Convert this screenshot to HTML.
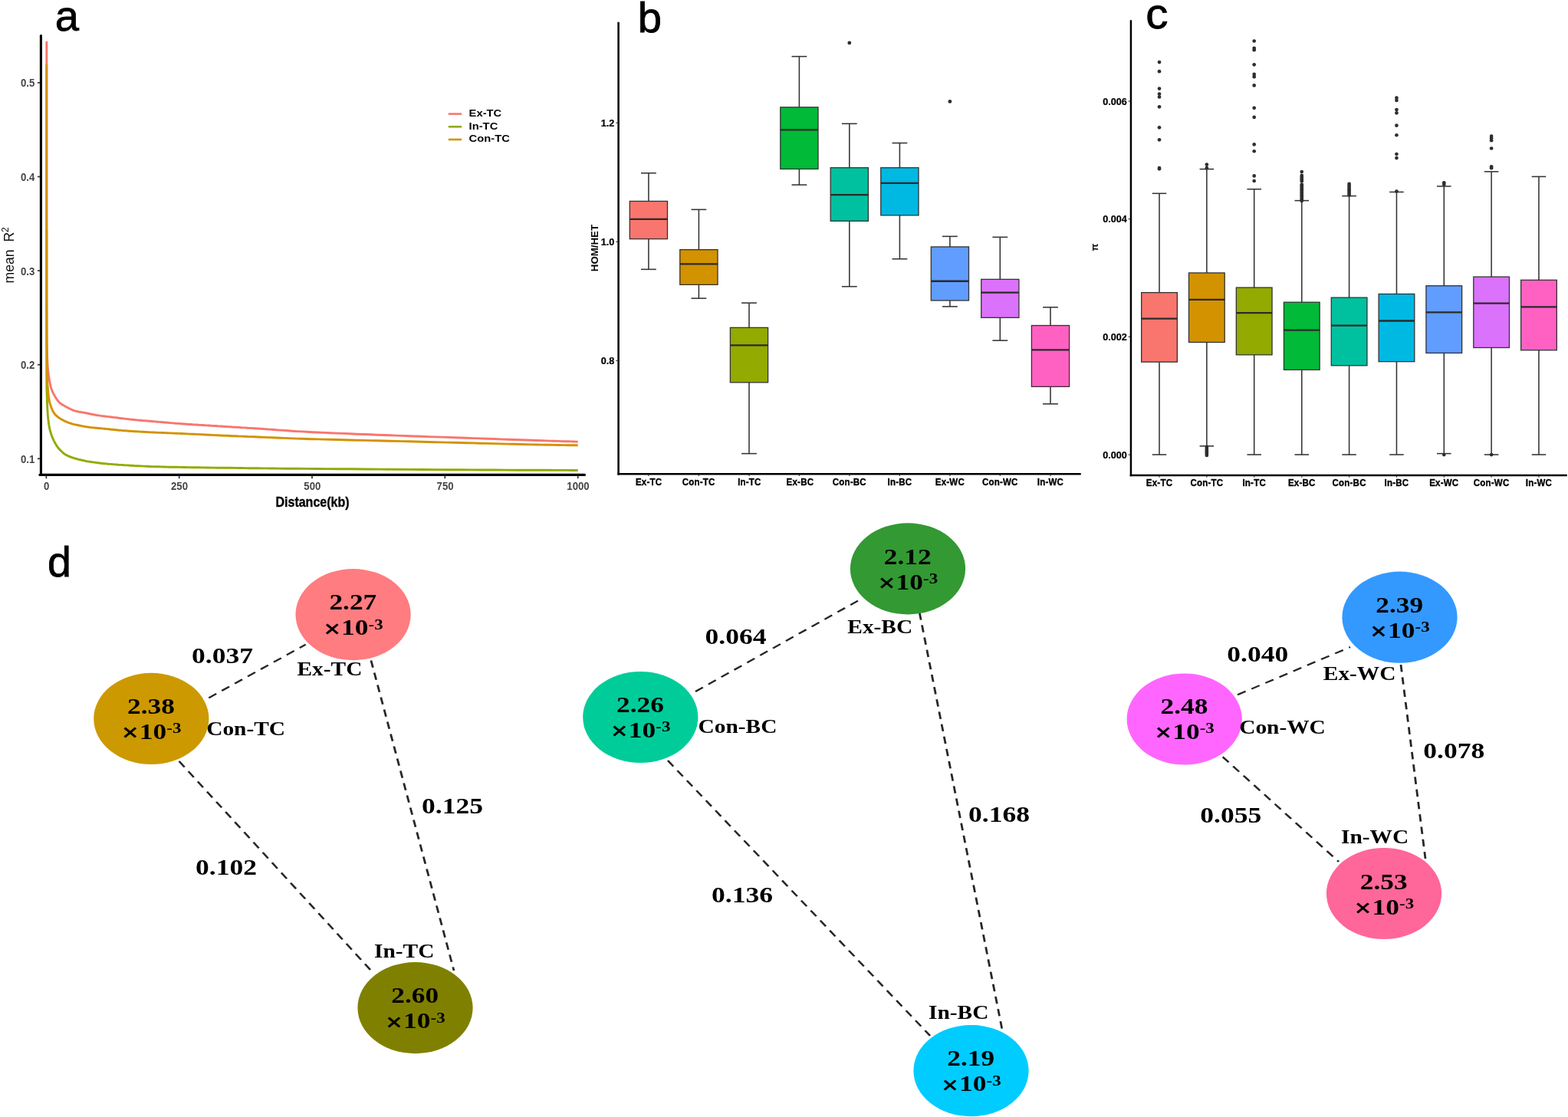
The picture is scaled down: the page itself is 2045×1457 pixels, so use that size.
<!DOCTYPE html>
<html lang="en"><head><meta charset="utf-8"><title>Figure</title>
<style>
html,body{margin:0;padding:0;background:#fff;}
body{width:2045px;height:1457px;overflow:hidden;}
svg{display:block;}
text{white-space:pre;}
</style></head><body>
<svg xmlns="http://www.w3.org/2000/svg" width="2045" height="1457" viewBox="0 0 2045 1457">
<rect width="2045" height="1457" fill="#fff"/>
<g id="panel-a">
<text transform="translate(71.80 39.90)" font-family='"Liberation Sans", Arial, Helvetica, sans-serif' font-size="56.2" font-weight="normal" text-anchor="start" fill="#000" stroke="#000" stroke-width="0.8">a</text>
<path d="M60.8 54.0 L60.8 66.3 L60.8 82.2 L60.8 101.2 L60.8 122.4 L60.8 145.4 L60.8 169.5 L60.8 194.0 L60.8 218.2 L60.8 241.6 L60.8 263.4 L60.8 283.1 L60.8 300.0 L60.8 314.7 L60.8 328.3 L60.8 340.9 L60.8 352.5 L60.8 363.2 L60.8 373.2 L60.8 382.4 L60.8 391.0 L60.9 398.9 L60.9 406.4 L60.9 413.4 L60.9 420.0 L60.9 425.9 L60.9 430.9 L61.0 435.0 L61.0 438.4 L61.0 441.2 L61.0 443.6 L61.1 445.6 L61.1 447.4 L61.2 449.1 L61.2 450.8 L61.2 452.8 L61.3 455.0 L61.4 457.4 L61.4 459.7 L61.5 461.9 L61.5 464.0 L61.6 466.0 L61.7 467.9 L61.8 469.8 L61.9 471.6 L61.9 473.3 L62.0 474.9 L62.1 476.5 L62.2 478.0 L62.3 479.4 L62.4 480.7 L62.5 481.9 L62.6 482.9 L62.7 483.9 L62.8 484.9 L62.9 485.8 L63.0 486.7 L63.2 487.5 L63.3 488.3 L63.4 489.2 L63.5 490.0 L63.6 490.8 L63.7 491.6 L63.8 492.4 L63.9 493.1 L64.1 493.8 L64.2 494.5 L64.3 495.2 L64.4 495.8 L64.5 496.5 L64.7 497.2 L64.8 497.9 L65.0 498.7 L65.2 499.5 L65.3 500.3 L65.5 501.1 L65.7 501.9 L65.8 502.7 L66.0 503.5 L66.2 504.4 L66.5 505.2 L66.7 506.0 L66.9 506.9 L67.2 507.7 L67.5 508.5 L67.8 509.3 L68.2 510.1 L68.5 511.0 L68.9 511.8 L69.3 512.7 L69.7 513.5 L70.2 514.3 L70.6 515.1 L71.1 515.9 L71.5 516.7 L72.0 517.5 L72.4 518.2 L72.8 518.9 L73.3 519.6 L73.7 520.2 L74.1 520.9 L74.6 521.5 L75.0 522.1 L75.5 522.7 L75.9 523.3 L76.4 523.9 L77.0 524.5 L77.6 525.0 L78.2 525.6 L78.9 526.2 L79.6 526.7 L80.4 527.2 L81.2 527.8 L82.0 528.3 L82.8 528.8 L83.7 529.3 L84.6 529.8 L85.5 530.3 L86.3 530.7 L87.2 531.2 L88.0 531.6 L88.8 532.0 L89.6 532.4 L90.3 532.8 L91.1 533.2 L91.8 533.6 L92.6 533.9 L93.4 534.3 L94.2 534.6 L95.0 535.0 L95.9 535.3 L96.8 535.6 L97.8 535.9 L98.9 536.2 L100.0 536.5 L101.1 536.7 L102.3 537.0 L103.6 537.2 L104.8 537.4 L106.1 537.7 L107.4 537.9 L108.7 538.1 L110.0 538.3 L111.3 538.6 L112.5 538.8 L113.7 539.0 L114.9 539.3 L116.0 539.5 L117.2 539.8 L118.3 540.0 L119.5 540.3 L120.7 540.5 L121.9 540.8 L123.1 541.0 L124.4 541.2 L125.7 541.5 L127.1 541.7 L128.6 541.9 L130.1 542.1 L131.6 542.4 L133.3 542.6 L134.9 542.8 L136.6 543.0 L138.3 543.2 L140.0 543.4 L141.7 543.6 L143.4 543.8 L145.1 544.0 L146.7 544.2 L148.3 544.4 L150.0 544.6 L151.7 544.8 L153.4 545.0 L155.1 545.3 L156.8 545.5 L158.5 545.7 L160.1 545.9 L161.8 546.1 L163.3 546.3 L164.8 546.4 L166.3 546.6 L167.7 546.8 L169.0 546.9 L170.2 547.0 L171.4 547.2 L172.5 547.3 L173.6 547.4 L174.8 547.5 L175.9 547.6 L177.1 547.7 L178.3 547.9 L179.5 548.0 L180.9 548.1 L182.3 548.2 L183.6 548.3 L184.9 548.5 L186.2 548.6 L187.5 548.7 L188.9 548.8 L190.3 548.9 L191.9 549.0 L193.7 549.2 L195.6 549.3 L197.7 549.5 L200.0 549.7 L202.6 549.9 L205.4 550.2 L208.3 550.4 L211.5 550.7 L214.8 551.0 L218.2 551.3 L221.7 551.6 L225.3 551.9 L228.9 552.2 L232.6 552.4 L236.3 552.7 L240.0 553.0 L243.7 553.3 L247.5 553.5 L251.4 553.8 L255.4 554.0 L259.4 554.3 L263.5 554.5 L267.6 554.8 L271.7 555.0 L275.8 555.3 L279.9 555.5 L284.0 555.8 L288.0 556.0 L291.9 556.2 L295.8 556.5 L299.6 556.7 L303.4 557.0 L307.2 557.2 L311.0 557.4 L314.9 557.7 L318.8 557.9 L322.9 558.2 L327.1 558.4 L331.4 558.7 L336.0 559.0 L340.7 559.3 L345.3 559.6 L350.0 560.0 L354.8 560.3 L359.7 560.7 L364.8 561.1 L370.0 561.4 L375.4 561.8 L381.1 562.2 L387.1 562.6 L393.4 562.9 L400.0 563.3 L407.1 563.7 L414.6 564.0 L422.5 564.4 L430.7 564.7 L439.1 565.1 L447.8 565.4 L456.5 565.8 L465.3 566.2 L474.2 566.5 L482.9 566.8 L491.6 567.2 L500.0 567.5 L508.3 567.8 L516.7 568.1 L525.0 568.4 L533.3 568.7 L541.7 569.0 L550.0 569.3 L558.3 569.6 L566.7 569.9 L575.0 570.1 L583.3 570.4 L591.7 570.7 L600.0 571.0 L608.5 571.3 L617.2 571.6 L626.1 571.9 L635.0 572.2 L644.0 572.5 L652.9 572.9 L661.6 573.2 L670.1 573.5 L678.3 573.8 L686.0 574.0 L693.3 574.3 L700.0 574.5 L706.3 574.7 L712.3 574.9 L717.9 575.1 L723.3 575.3 L728.4 575.4 L733.1 575.6 L737.5 575.7 L741.5 575.8 L745.1 575.9 L748.4 576.0 L751.3 576.1 L753.7 576.2" fill="none" stroke="#F8766D" stroke-width="2.9" stroke-linejoin="round" stroke-linecap="butt"/>
<path d="M60.8 300.0 L60.8 309.2 L60.8 321.3 L60.8 335.7 L60.8 352.0 L60.8 369.6 L60.8 387.8 L60.8 406.2 L60.8 424.1 L60.8 441.0 L60.8 456.3 L60.8 469.5 L60.8 480.0 L60.8 488.0 L60.8 494.4 L60.9 499.2 L60.9 502.9 L60.9 505.5 L60.9 507.3 L61.0 508.6 L61.0 509.6 L61.1 510.5 L61.1 511.6 L61.1 513.0 L61.2 515.0 L61.3 517.4 L61.3 519.6 L61.4 521.7 L61.4 523.8 L61.5 525.8 L61.6 527.7 L61.7 529.5 L61.7 531.3 L61.8 533.0 L61.9 534.6 L62.0 536.2 L62.1 537.8 L62.2 539.3 L62.3 540.8 L62.4 542.2 L62.5 543.5 L62.7 544.8 L62.8 546.0 L62.9 547.1 L63.0 548.3 L63.2 549.4 L63.3 550.4 L63.5 551.5 L63.6 552.5 L63.7 553.5 L63.9 554.4 L64.0 555.3 L64.1 556.1 L64.3 556.9 L64.4 557.7 L64.6 558.4 L64.7 559.1 L64.9 559.9 L65.1 560.6 L65.3 561.4 L65.5 562.2 L65.7 563.0 L66.0 563.8 L66.2 564.6 L66.4 565.5 L66.7 566.3 L67.0 567.1 L67.3 567.9 L67.6 568.7 L67.9 569.5 L68.2 570.4 L68.5 571.2 L68.9 572.0 L69.3 572.8 L69.7 573.7 L70.1 574.6 L70.5 575.4 L71.0 576.3 L71.5 577.2 L71.9 578.1 L72.4 578.9 L72.9 579.7 L73.4 580.5 L73.8 581.3 L74.3 582.0 L74.8 582.7 L75.2 583.3 L75.7 583.9 L76.2 584.5 L76.6 585.0 L77.1 585.6 L77.6 586.1 L78.1 586.6 L78.5 587.1 L79.0 587.6 L79.5 588.0 L80.0 588.5 L80.5 589.0 L80.9 589.4 L81.4 589.8 L81.8 590.3 L82.3 590.7 L82.7 591.1 L83.2 591.4 L83.7 591.8 L84.2 592.2 L84.8 592.6 L85.4 592.9 L86.0 593.3 L86.7 593.7 L87.4 594.0 L88.2 594.4 L89.0 594.8 L89.8 595.1 L90.6 595.5 L91.5 595.8 L92.4 596.1 L93.3 596.5 L94.2 596.8 L95.1 597.1 L96.0 597.4 L96.9 597.7 L97.9 598.0 L98.9 598.3 L99.9 598.5 L100.9 598.8 L101.9 599.1 L102.9 599.3 L103.9 599.6 L105.0 599.8 L106.0 600.0 L107.0 600.3 L108.0 600.5 L109.0 600.7 L109.9 600.9 L110.7 601.1 L111.6 601.3 L112.4 601.5 L113.2 601.6 L114.1 601.8 L115.1 602.0 L116.2 602.1 L117.3 602.3 L118.6 602.5 L120.0 602.7 L121.5 602.9 L123.0 603.1 L124.6 603.3 L126.2 603.6 L127.9 603.8 L129.8 604.0 L131.7 604.2 L133.8 604.5 L136.0 604.7 L138.5 604.9 L141.1 605.2 L144.0 605.4 L147.2 605.6 L150.6 605.9 L154.3 606.2 L158.2 606.4 L162.3 606.7 L166.5 606.9 L170.8 607.2 L175.1 607.5 L179.4 607.7 L183.7 607.9 L187.9 608.1 L192.0 608.3 L195.9 608.5 L199.6 608.6 L203.2 608.7 L206.8 608.8 L210.4 608.9 L214.0 609.0 L217.7 609.1 L221.6 609.2 L225.8 609.2 L230.1 609.3 L234.9 609.4 L240.0 609.5 L245.5 609.6 L251.5 609.7 L257.8 609.8 L264.3 609.9 L271.1 610.0 L278.0 610.1 L285.0 610.2 L292.1 610.3 L299.2 610.3 L306.3 610.4 L313.2 610.5 L320.0 610.6 L326.3 610.7 L331.9 610.7 L337.2 610.8 L342.2 610.9 L347.3 610.9 L352.5 611.0 L358.2 611.0 L364.4 611.1 L371.6 611.2 L379.7 611.2 L389.1 611.3 L400.0 611.4 L412.6 611.5 L426.9 611.6 L442.6 611.7 L459.5 611.8 L477.2 612.0 L495.4 612.1 L513.9 612.2 L532.3 612.4 L550.4 612.5 L568.0 612.6 L584.6 612.7 L600.0 612.8 L614.9 612.9 L630.1 613.0 L645.3 613.0 L660.4 613.1 L675.1 613.2 L689.4 613.2 L702.9 613.3 L715.6 613.3 L727.2 613.4 L737.5 613.4 L746.4 613.5 L753.7 613.5" fill="none" stroke="#93AA00" stroke-width="2.9" stroke-linejoin="round" stroke-linecap="butt"/>
<path d="M60.8 84.0 L60.8 94.7 L60.8 108.4 L60.8 124.6 L60.8 142.8 L60.8 162.5 L60.8 183.2 L60.8 204.5 L60.8 225.6 L60.8 246.3 L60.8 265.9 L60.8 284.0 L60.8 300.0 L60.8 314.7 L60.8 328.9 L60.8 342.8 L60.8 356.2 L60.8 369.0 L60.8 381.3 L60.8 393.0 L60.8 403.9 L60.9 414.2 L60.9 423.6 L60.9 432.3 L60.9 440.0 L60.9 446.6 L60.9 452.0 L61.0 456.4 L61.0 459.9 L61.0 462.6 L61.0 464.8 L61.0 466.5 L61.1 468.1 L61.1 469.5 L61.1 471.0 L61.2 472.8 L61.2 475.0 L61.2 477.4 L61.3 479.7 L61.3 481.8 L61.3 483.9 L61.4 485.9 L61.4 487.8 L61.4 489.7 L61.5 491.5 L61.6 493.3 L61.6 495.1 L61.7 496.9 L61.8 498.7 L61.9 500.5 L62.0 502.3 L62.2 504.1 L62.3 505.9 L62.4 507.6 L62.6 509.3 L62.8 511.0 L62.9 512.6 L63.1 514.1 L63.3 515.6 L63.4 516.9 L63.6 518.2 L63.8 519.4 L63.9 520.4 L64.1 521.3 L64.2 522.2 L64.3 523.0 L64.5 523.7 L64.7 524.4 L64.8 525.1 L65.0 525.8 L65.2 526.5 L65.5 527.2 L65.7 528.0 L66.0 528.8 L66.3 529.7 L66.6 530.5 L66.9 531.4 L67.2 532.3 L67.6 533.1 L68.0 534.0 L68.3 534.8 L68.7 535.6 L69.1 536.4 L69.5 537.1 L69.9 537.8 L70.3 538.4 L70.7 539.0 L71.1 539.6 L71.5 540.1 L71.9 540.6 L72.4 541.1 L72.8 541.5 L73.3 542.0 L73.8 542.4 L74.2 542.8 L74.8 543.3 L75.3 543.7 L75.9 544.1 L76.4 544.6 L77.0 545.0 L77.6 545.4 L78.3 545.9 L78.9 546.3 L79.6 546.7 L80.3 547.1 L81.0 547.5 L81.7 547.9 L82.4 548.2 L83.1 548.6 L83.8 549.0 L84.6 549.3 L85.3 549.7 L86.1 550.0 L86.9 550.3 L87.7 550.7 L88.5 551.0 L89.3 551.3 L90.2 551.6 L91.1 551.9 L92.0 552.2 L92.9 552.5 L93.9 552.8 L94.9 553.1 L95.9 553.3 L97.0 553.6 L98.0 553.8 L99.1 554.1 L100.2 554.3 L101.3 554.5 L102.4 554.8 L103.5 555.0 L104.6 555.2 L105.6 555.4 L106.6 555.6 L107.5 555.8 L108.4 556.0 L109.3 556.1 L110.2 556.3 L111.1 556.5 L112.0 556.6 L112.9 556.8 L113.9 556.9 L115.0 557.1 L116.1 557.2 L117.4 557.4 L118.8 557.6 L120.2 557.7 L121.7 557.9 L123.3 558.0 L125.0 558.2 L126.7 558.3 L128.4 558.5 L130.1 558.7 L131.8 558.8 L133.6 559.0 L135.2 559.1 L136.9 559.3 L138.5 559.5 L140.2 559.6 L141.8 559.8 L143.4 560.0 L145.1 560.2 L146.7 560.3 L148.3 560.5 L150.0 560.7 L151.6 560.8 L153.2 561.0 L154.9 561.2 L156.5 561.3 L158.1 561.4 L159.7 561.6 L161.3 561.7 L162.8 561.8 L164.4 561.9 L166.0 562.0 L167.6 562.2 L169.2 562.3 L170.8 562.4 L172.5 562.5 L174.2 562.6 L176.0 562.7 L177.8 562.8 L179.6 562.9 L181.3 563.0 L183.1 563.1 L184.9 563.2 L186.7 563.3 L188.6 563.4 L190.6 563.5 L192.8 563.6 L195.0 563.8 L197.4 563.9 L200.0 564.0 L202.7 564.1 L205.6 564.3 L208.7 564.4 L211.9 564.5 L215.1 564.6 L218.5 564.8 L222.0 564.9 L225.5 565.1 L229.1 565.2 L232.7 565.4 L236.3 565.5 L240.0 565.7 L243.7 565.9 L247.5 566.1 L251.4 566.2 L255.4 566.4 L259.4 566.6 L263.5 566.8 L267.6 567.0 L271.7 567.2 L275.8 567.4 L279.9 567.6 L284.0 567.8 L288.0 568.0 L291.9 568.2 L295.8 568.3 L299.6 568.5 L303.4 568.7 L307.2 568.8 L311.0 569.0 L314.9 569.1 L318.8 569.3 L322.9 569.5 L327.1 569.6 L331.4 569.8 L336.0 570.0 L340.7 570.2 L345.3 570.4 L350.0 570.6 L354.8 570.8 L359.7 571.0 L364.8 571.2 L370.0 571.4 L375.4 571.6 L381.1 571.9 L387.1 572.1 L393.4 572.3 L400.0 572.5 L407.1 572.7 L414.6 572.9 L422.5 573.1 L430.7 573.3 L439.1 573.5 L447.8 573.8 L456.5 574.0 L465.3 574.2 L474.2 574.4 L482.9 574.6 L491.6 574.8 L500.0 575.0 L508.3 575.2 L516.7 575.4 L525.0 575.6 L533.3 575.8 L541.7 576.0 L550.0 576.2 L558.3 576.5 L566.7 576.7 L575.0 576.9 L583.3 577.1 L591.7 577.3 L600.0 577.5 L608.5 577.7 L617.2 577.9 L626.1 578.2 L635.0 578.4 L644.0 578.6 L652.9 578.9 L661.6 579.1 L670.1 579.3 L678.3 579.5 L686.0 579.7 L693.3 579.9 L700.0 580.0 L706.3 580.1 L712.3 580.2 L717.9 580.3 L723.3 580.4 L728.4 580.5 L733.1 580.6 L737.5 580.6 L741.5 580.7 L745.1 580.7 L748.4 580.7 L751.3 580.8 L753.7 580.8" fill="none" stroke="#D39200" stroke-width="2.9" stroke-linejoin="round" stroke-linecap="butt"/>
<line x1="53.40" y1="46.60" x2="53.40" y2="619.40" stroke="#000" stroke-width="3.1" stroke-linecap="round" />
<line x1="51.90" y1="619.40" x2="762.50" y2="619.40" stroke="#000" stroke-width="3.1" stroke-linecap="round" />
<line x1="48.90" y1="107.90" x2="52.00" y2="107.90" stroke="#333" stroke-width="1.7" stroke-linecap="butt" />
<text transform="translate(45.30 113.40) scale(0.8500 1)" font-family='"Liberation Sans", Arial, Helvetica, sans-serif' font-size="15.5" font-weight="bold" text-anchor="end" fill="#454545" >0.5</text>
<line x1="48.90" y1="230.50" x2="52.00" y2="230.50" stroke="#333" stroke-width="1.7" stroke-linecap="butt" />
<text transform="translate(45.30 236.00) scale(0.8500 1)" font-family='"Liberation Sans", Arial, Helvetica, sans-serif' font-size="15.5" font-weight="bold" text-anchor="end" fill="#454545" >0.4</text>
<line x1="48.90" y1="353.10" x2="52.00" y2="353.10" stroke="#333" stroke-width="1.7" stroke-linecap="butt" />
<text transform="translate(45.30 358.60) scale(0.8500 1)" font-family='"Liberation Sans", Arial, Helvetica, sans-serif' font-size="15.5" font-weight="bold" text-anchor="end" fill="#454545" >0.3</text>
<line x1="48.90" y1="475.70" x2="52.00" y2="475.70" stroke="#333" stroke-width="1.7" stroke-linecap="butt" />
<text transform="translate(45.30 481.20) scale(0.8500 1)" font-family='"Liberation Sans", Arial, Helvetica, sans-serif' font-size="15.5" font-weight="bold" text-anchor="end" fill="#454545" >0.2</text>
<line x1="48.90" y1="598.30" x2="52.00" y2="598.30" stroke="#333" stroke-width="1.7" stroke-linecap="butt" />
<text transform="translate(45.30 603.80) scale(0.8500 1)" font-family='"Liberation Sans", Arial, Helvetica, sans-serif' font-size="15.5" font-weight="bold" text-anchor="end" fill="#454545" >0.1</text>
<line x1="60.40" y1="620.50" x2="60.40" y2="624.20" stroke="#333" stroke-width="1.7" stroke-linecap="butt" />
<text transform="translate(60.70 638.70) scale(0.8500 1)" font-family='"Liberation Sans", Arial, Helvetica, sans-serif' font-size="15.5" font-weight="bold" text-anchor="middle" fill="#454545" >0</text>
<line x1="233.70" y1="620.50" x2="233.70" y2="624.20" stroke="#333" stroke-width="1.7" stroke-linecap="butt" />
<text transform="translate(234.00 638.70) scale(0.8500 1)" font-family='"Liberation Sans", Arial, Helvetica, sans-serif' font-size="15.5" font-weight="bold" text-anchor="middle" fill="#454545" >250</text>
<line x1="407.00" y1="620.50" x2="407.00" y2="624.20" stroke="#333" stroke-width="1.7" stroke-linecap="butt" />
<text transform="translate(407.30 638.70) scale(0.8500 1)" font-family='"Liberation Sans", Arial, Helvetica, sans-serif' font-size="15.5" font-weight="bold" text-anchor="middle" fill="#454545" >500</text>
<line x1="580.30" y1="620.50" x2="580.30" y2="624.20" stroke="#333" stroke-width="1.7" stroke-linecap="butt" />
<text transform="translate(580.60 638.70) scale(0.8500 1)" font-family='"Liberation Sans", Arial, Helvetica, sans-serif' font-size="15.5" font-weight="bold" text-anchor="middle" fill="#454545" >750</text>
<line x1="753.70" y1="620.50" x2="753.70" y2="624.20" stroke="#333" stroke-width="1.7" stroke-linecap="butt" />
<text transform="translate(754.00 638.70) scale(0.8500 1)" font-family='"Liberation Sans", Arial, Helvetica, sans-serif' font-size="15.5" font-weight="bold" text-anchor="middle" fill="#454545" >1000</text>
<text transform="translate(18.20 369.40) rotate(-90)" font-family='"Liberation Sans", Arial, Helvetica, sans-serif' font-size="17.6" font-weight="normal" text-anchor="start" fill="#111" >mean&#160;&#160;R<tspan dy="-7.6" font-size="12">2</tspan></text>
<text transform="translate(407.50 660.60) scale(0.9150 1)" font-family='"Liberation Sans", Arial, Helvetica, sans-serif' font-size="17.5" font-weight="bold" text-anchor="middle" fill="#000" stroke="#000" stroke-width="0.35">Distance(kb)</text>
<line x1="584.80" y1="148.60" x2="602.10" y2="148.60" stroke="#F8766D" stroke-width="2.6" stroke-linecap="butt" />
<text transform="translate(611.60 151.85) scale(1.2200 1)" font-family='"Liberation Sans", Arial, Helvetica, sans-serif' font-size="12.1" font-weight="bold" text-anchor="start" fill="#000" >Ex-TC</text>
<line x1="584.80" y1="165.30" x2="602.10" y2="165.30" stroke="#93AA00" stroke-width="2.6" stroke-linecap="butt" />
<text transform="translate(611.60 169.15) scale(1.2200 1)" font-family='"Liberation Sans", Arial, Helvetica, sans-serif' font-size="12.1" font-weight="bold" text-anchor="start" fill="#000" >In-TC</text>
<line x1="584.80" y1="182.00" x2="602.10" y2="182.00" stroke="#D39200" stroke-width="2.6" stroke-linecap="butt" />
<text transform="translate(611.60 185.40) scale(1.2200 1)" font-family='"Liberation Sans", Arial, Helvetica, sans-serif' font-size="12.1" font-weight="bold" text-anchor="start" fill="#000" >Con-TC</text>
</g>
<g id="panel-b">
<text transform="translate(831.80 41.90)" font-family='"Liberation Sans", Arial, Helvetica, sans-serif' font-size="56.2" font-weight="normal" text-anchor="start" fill="#000" stroke="#000" stroke-width="0.8">b</text>
<line x1="845.90" y1="225.75" x2="845.90" y2="262.45" stroke="#333" stroke-width="1.55" stroke-linecap="butt" />
<line x1="845.90" y1="311.65" x2="845.90" y2="351.35" stroke="#333" stroke-width="1.55" stroke-linecap="butt" />
<line x1="836.00" y1="225.75" x2="855.80" y2="225.75" stroke="#333" stroke-width="1.55" stroke-linecap="butt" />
<line x1="836.00" y1="351.35" x2="855.80" y2="351.35" stroke="#333" stroke-width="1.55" stroke-linecap="butt" />
<rect x="821.30" y="262.45" width="49.20" height="49.20" fill="#F8766D" stroke="#333" stroke-width="1.3"/>
<line x1="821.30" y1="285.95" x2="870.50" y2="285.95" stroke="#2b2b2b" stroke-width="2.3" stroke-linecap="butt" />
<line x1="911.40" y1="273.35" x2="911.40" y2="325.65" stroke="#333" stroke-width="1.55" stroke-linecap="butt" />
<line x1="911.40" y1="371.35" x2="911.40" y2="389.15" stroke="#333" stroke-width="1.55" stroke-linecap="butt" />
<line x1="901.50" y1="273.35" x2="921.30" y2="273.35" stroke="#333" stroke-width="1.55" stroke-linecap="butt" />
<line x1="901.50" y1="389.15" x2="921.30" y2="389.15" stroke="#333" stroke-width="1.55" stroke-linecap="butt" />
<rect x="886.80" y="325.65" width="49.20" height="45.70" fill="#D39200" stroke="#333" stroke-width="1.3"/>
<line x1="886.80" y1="344.35" x2="936.00" y2="344.35" stroke="#2b2b2b" stroke-width="2.3" stroke-linecap="butt" />
<line x1="977.00" y1="395.15" x2="977.00" y2="427.35" stroke="#333" stroke-width="1.55" stroke-linecap="butt" />
<line x1="977.00" y1="498.85" x2="977.00" y2="591.65" stroke="#333" stroke-width="1.55" stroke-linecap="butt" />
<line x1="967.10" y1="395.15" x2="986.90" y2="395.15" stroke="#333" stroke-width="1.55" stroke-linecap="butt" />
<line x1="967.10" y1="591.65" x2="986.90" y2="591.65" stroke="#333" stroke-width="1.55" stroke-linecap="butt" />
<rect x="952.40" y="427.35" width="49.20" height="71.50" fill="#93AA00" stroke="#333" stroke-width="1.3"/>
<line x1="952.40" y1="450.35" x2="1001.60" y2="450.35" stroke="#2b2b2b" stroke-width="2.3" stroke-linecap="butt" />
<line x1="1042.40" y1="73.65" x2="1042.40" y2="139.85" stroke="#333" stroke-width="1.55" stroke-linecap="butt" />
<line x1="1042.40" y1="220.45" x2="1042.40" y2="241.15" stroke="#333" stroke-width="1.55" stroke-linecap="butt" />
<line x1="1032.50" y1="73.65" x2="1052.30" y2="73.65" stroke="#333" stroke-width="1.55" stroke-linecap="butt" />
<line x1="1032.50" y1="241.15" x2="1052.30" y2="241.15" stroke="#333" stroke-width="1.55" stroke-linecap="butt" />
<rect x="1017.80" y="139.85" width="49.20" height="80.60" fill="#00BA38" stroke="#333" stroke-width="1.3"/>
<line x1="1017.80" y1="169.35" x2="1067.00" y2="169.35" stroke="#2b2b2b" stroke-width="2.3" stroke-linecap="butt" />
<line x1="1107.80" y1="161.35" x2="1107.80" y2="218.75" stroke="#333" stroke-width="1.55" stroke-linecap="butt" />
<line x1="1107.80" y1="288.35" x2="1107.80" y2="373.75" stroke="#333" stroke-width="1.55" stroke-linecap="butt" />
<line x1="1097.90" y1="161.35" x2="1117.70" y2="161.35" stroke="#333" stroke-width="1.55" stroke-linecap="butt" />
<line x1="1097.90" y1="373.75" x2="1117.70" y2="373.75" stroke="#333" stroke-width="1.55" stroke-linecap="butt" />
<rect x="1083.20" y="218.75" width="49.20" height="69.60" fill="#00C19F" stroke="#333" stroke-width="1.3"/>
<line x1="1083.20" y1="254.15" x2="1132.40" y2="254.15" stroke="#2b2b2b" stroke-width="2.3" stroke-linecap="butt" />
<circle cx="1107.80" cy="55.95" r="2.4" fill="#2e2e2e"/>
<line x1="1173.40" y1="186.55" x2="1173.40" y2="218.75" stroke="#333" stroke-width="1.55" stroke-linecap="butt" />
<line x1="1173.40" y1="280.85" x2="1173.40" y2="337.75" stroke="#333" stroke-width="1.55" stroke-linecap="butt" />
<line x1="1163.50" y1="186.55" x2="1183.30" y2="186.55" stroke="#333" stroke-width="1.55" stroke-linecap="butt" />
<line x1="1163.50" y1="337.75" x2="1183.30" y2="337.75" stroke="#333" stroke-width="1.55" stroke-linecap="butt" />
<rect x="1148.80" y="218.75" width="49.20" height="62.10" fill="#00B9E3" stroke="#333" stroke-width="1.3"/>
<line x1="1148.80" y1="238.85" x2="1198.00" y2="238.85" stroke="#2b2b2b" stroke-width="2.3" stroke-linecap="butt" />
<line x1="1238.90" y1="308.35" x2="1238.90" y2="321.95" stroke="#333" stroke-width="1.55" stroke-linecap="butt" />
<line x1="1238.90" y1="391.95" x2="1238.90" y2="399.85" stroke="#333" stroke-width="1.55" stroke-linecap="butt" />
<line x1="1229.00" y1="308.35" x2="1248.80" y2="308.35" stroke="#333" stroke-width="1.55" stroke-linecap="butt" />
<line x1="1229.00" y1="399.85" x2="1248.80" y2="399.85" stroke="#333" stroke-width="1.55" stroke-linecap="butt" />
<rect x="1214.30" y="321.95" width="49.20" height="70.00" fill="#619CFF" stroke="#333" stroke-width="1.3"/>
<line x1="1214.30" y1="366.75" x2="1263.50" y2="366.75" stroke="#2b2b2b" stroke-width="2.3" stroke-linecap="butt" />
<circle cx="1238.90" cy="132.45" r="2.4" fill="#2e2e2e"/>
<line x1="1304.30" y1="309.35" x2="1304.30" y2="364.35" stroke="#333" stroke-width="1.55" stroke-linecap="butt" />
<line x1="1304.30" y1="414.35" x2="1304.30" y2="444.15" stroke="#333" stroke-width="1.55" stroke-linecap="butt" />
<line x1="1294.40" y1="309.35" x2="1314.20" y2="309.35" stroke="#333" stroke-width="1.55" stroke-linecap="butt" />
<line x1="1294.40" y1="444.15" x2="1314.20" y2="444.15" stroke="#333" stroke-width="1.55" stroke-linecap="butt" />
<rect x="1279.70" y="364.35" width="49.20" height="50.00" fill="#DB72FB" stroke="#333" stroke-width="1.3"/>
<line x1="1279.70" y1="381.65" x2="1328.90" y2="381.65" stroke="#2b2b2b" stroke-width="2.3" stroke-linecap="butt" />
<line x1="1370.00" y1="400.75" x2="1370.00" y2="424.55" stroke="#333" stroke-width="1.55" stroke-linecap="butt" />
<line x1="1370.00" y1="504.35" x2="1370.00" y2="526.85" stroke="#333" stroke-width="1.55" stroke-linecap="butt" />
<line x1="1360.10" y1="400.75" x2="1379.90" y2="400.75" stroke="#333" stroke-width="1.55" stroke-linecap="butt" />
<line x1="1360.10" y1="526.85" x2="1379.90" y2="526.85" stroke="#333" stroke-width="1.55" stroke-linecap="butt" />
<rect x="1345.40" y="424.55" width="49.20" height="79.80" fill="#FF61C3" stroke="#333" stroke-width="1.3"/>
<line x1="1345.40" y1="456.35" x2="1394.60" y2="456.35" stroke="#2b2b2b" stroke-width="2.3" stroke-linecap="butt" />
<line x1="806.60" y1="30.00" x2="806.60" y2="618.20" stroke="#000" stroke-width="2.5" stroke-linecap="square" />
<line x1="806.60" y1="618.20" x2="1408.50" y2="618.20" stroke="#000" stroke-width="2.5" stroke-linecap="square" />
<line x1="803.30" y1="160.20" x2="805.60" y2="160.20" stroke="#333" stroke-width="1.2" stroke-linecap="butt" />
<text transform="translate(801.20 164.95) scale(0.9650 1)" font-family='"Liberation Sans", Arial, Helvetica, sans-serif' font-size="13.1" font-weight="bold" text-anchor="end" fill="#000" stroke="#000" stroke-width="0.2">1.2</text>
<line x1="803.30" y1="315.40" x2="805.60" y2="315.40" stroke="#333" stroke-width="1.2" stroke-linecap="butt" />
<text transform="translate(801.20 320.15) scale(0.9650 1)" font-family='"Liberation Sans", Arial, Helvetica, sans-serif' font-size="13.1" font-weight="bold" text-anchor="end" fill="#000" stroke="#000" stroke-width="0.2">1.0</text>
<line x1="803.30" y1="470.40" x2="805.60" y2="470.40" stroke="#333" stroke-width="1.2" stroke-linecap="butt" />
<text transform="translate(801.20 475.15) scale(0.9650 1)" font-family='"Liberation Sans", Arial, Helvetica, sans-serif' font-size="13.1" font-weight="bold" text-anchor="end" fill="#000" stroke="#000" stroke-width="0.2">0.8</text>
<line x1="845.90" y1="619.20" x2="845.90" y2="621.00" stroke="#333" stroke-width="1.2" stroke-linecap="butt" />
<text transform="translate(846.10 632.80) scale(0.9250 1)" font-family='"Liberation Sans", Arial, Helvetica, sans-serif' font-size="12.5" font-weight="bold" text-anchor="middle" fill="#000" stroke="#000" stroke-width="0.35" letter-spacing="0.2">Ex-TC</text>
<line x1="911.40" y1="619.20" x2="911.40" y2="621.00" stroke="#333" stroke-width="1.2" stroke-linecap="butt" />
<text transform="translate(911.10 632.80) scale(0.9250 1)" font-family='"Liberation Sans", Arial, Helvetica, sans-serif' font-size="12.5" font-weight="bold" text-anchor="middle" fill="#000" stroke="#000" stroke-width="0.35" letter-spacing="0.2">Con-TC</text>
<line x1="977.00" y1="619.20" x2="977.00" y2="621.00" stroke="#333" stroke-width="1.2" stroke-linecap="butt" />
<text transform="translate(977.40 632.80) scale(0.9250 1)" font-family='"Liberation Sans", Arial, Helvetica, sans-serif' font-size="12.5" font-weight="bold" text-anchor="middle" fill="#000" stroke="#000" stroke-width="0.35" letter-spacing="0.2">In-TC</text>
<line x1="1042.40" y1="619.20" x2="1042.40" y2="621.00" stroke="#333" stroke-width="1.2" stroke-linecap="butt" />
<text transform="translate(1043.40 632.80) scale(0.9250 1)" font-family='"Liberation Sans", Arial, Helvetica, sans-serif' font-size="12.5" font-weight="bold" text-anchor="middle" fill="#000" stroke="#000" stroke-width="0.35" letter-spacing="0.2">Ex-BC</text>
<line x1="1107.80" y1="619.20" x2="1107.80" y2="621.00" stroke="#333" stroke-width="1.2" stroke-linecap="butt" />
<text transform="translate(1107.80 632.80) scale(0.9250 1)" font-family='"Liberation Sans", Arial, Helvetica, sans-serif' font-size="12.5" font-weight="bold" text-anchor="middle" fill="#000" stroke="#000" stroke-width="0.35" letter-spacing="0.2">Con-BC</text>
<line x1="1173.40" y1="619.20" x2="1173.40" y2="621.00" stroke="#333" stroke-width="1.2" stroke-linecap="butt" />
<text transform="translate(1173.40 632.80) scale(0.9250 1)" font-family='"Liberation Sans", Arial, Helvetica, sans-serif' font-size="12.5" font-weight="bold" text-anchor="middle" fill="#000" stroke="#000" stroke-width="0.35" letter-spacing="0.2">In-BC</text>
<line x1="1238.90" y1="619.20" x2="1238.90" y2="621.00" stroke="#333" stroke-width="1.2" stroke-linecap="butt" />
<text transform="translate(1238.90 632.80) scale(0.9250 1)" font-family='"Liberation Sans", Arial, Helvetica, sans-serif' font-size="12.5" font-weight="bold" text-anchor="middle" fill="#000" stroke="#000" stroke-width="0.35" letter-spacing="0.2">Ex-WC</text>
<line x1="1304.30" y1="619.20" x2="1304.30" y2="621.00" stroke="#333" stroke-width="1.2" stroke-linecap="butt" />
<text transform="translate(1304.30 632.80) scale(0.9250 1)" font-family='"Liberation Sans", Arial, Helvetica, sans-serif' font-size="12.5" font-weight="bold" text-anchor="middle" fill="#000" stroke="#000" stroke-width="0.35" letter-spacing="0.2">Con-WC</text>
<line x1="1370.00" y1="619.20" x2="1370.00" y2="621.00" stroke="#333" stroke-width="1.2" stroke-linecap="butt" />
<text transform="translate(1370.00 632.80) scale(0.9250 1)" font-family='"Liberation Sans", Arial, Helvetica, sans-serif' font-size="12.5" font-weight="bold" text-anchor="middle" fill="#000" stroke="#000" stroke-width="0.35" letter-spacing="0.2">In-WC</text>
<text transform="translate(779.90 323.60) rotate(-90) scale(0.9850 1)" font-family='"Liberation Sans", Arial, Helvetica, sans-serif' font-size="13.5" font-weight="bold" text-anchor="middle" fill="#000" >HOM/HET</text>
</g>
<g id="panel-c">
<text transform="translate(1494.20 37.30) scale(1.0400 1)" font-family='"Liberation Sans", Arial, Helvetica, sans-serif' font-size="56.2" font-weight="normal" text-anchor="start" fill="#000" stroke="#000" stroke-width="0.8">c</text>
<line x1="1512.01" y1="252.33" x2="1512.01" y2="381.61" stroke="#333" stroke-width="1.55" stroke-linecap="butt" />
<line x1="1512.01" y1="472.16" x2="1512.01" y2="593.04" stroke="#333" stroke-width="1.55" stroke-linecap="butt" />
<line x1="1502.76" y1="252.33" x2="1521.26" y2="252.33" stroke="#333" stroke-width="1.55" stroke-linecap="butt" />
<line x1="1502.76" y1="593.04" x2="1521.26" y2="593.04" stroke="#333" stroke-width="1.55" stroke-linecap="butt" />
<rect x="1488.66" y="381.61" width="46.70" height="90.54" fill="#F8766D" stroke="#333" stroke-width="1.3"/>
<line x1="1488.66" y1="415.68" x2="1535.36" y2="415.68" stroke="#2b2b2b" stroke-width="2.3" stroke-linecap="butt" />
<circle cx="1512.01" cy="81.04" r="2.35" fill="#2e2e2e"/>
<circle cx="1512.01" cy="93.18" r="2.35" fill="#2e2e2e"/>
<circle cx="1512.01" cy="115.58" r="2.35" fill="#2e2e2e"/>
<circle cx="1512.01" cy="122.55" r="2.35" fill="#2e2e2e"/>
<circle cx="1512.01" cy="126.50" r="2.35" fill="#2e2e2e"/>
<circle cx="1512.01" cy="139.30" r="2.35" fill="#2e2e2e"/>
<circle cx="1512.01" cy="166.30" r="2.35" fill="#2e2e2e"/>
<circle cx="1512.01" cy="182.30" r="2.35" fill="#2e2e2e"/>
<circle cx="1512.01" cy="219.00" r="2.35" fill="#2e2e2e"/>
<circle cx="1512.01" cy="220.30" r="2.35" fill="#2e2e2e"/>
<line x1="1573.85" y1="220.59" x2="1573.85" y2="355.94" stroke="#333" stroke-width="1.55" stroke-linecap="butt" />
<line x1="1573.85" y1="446.49" x2="1573.85" y2="581.84" stroke="#333" stroke-width="1.55" stroke-linecap="butt" />
<line x1="1564.60" y1="220.59" x2="1583.10" y2="220.59" stroke="#333" stroke-width="1.55" stroke-linecap="butt" />
<line x1="1564.60" y1="581.84" x2="1583.10" y2="581.84" stroke="#333" stroke-width="1.55" stroke-linecap="butt" />
<rect x="1550.50" y="355.94" width="46.70" height="90.54" fill="#D39200" stroke="#333" stroke-width="1.3"/>
<line x1="1550.50" y1="390.95" x2="1597.20" y2="390.95" stroke="#2b2b2b" stroke-width="2.3" stroke-linecap="butt" />
<circle cx="1573.85" cy="582.77" r="2.35" fill="#2e2e2e"/>
<circle cx="1573.85" cy="584.64" r="2.35" fill="#2e2e2e"/>
<circle cx="1573.85" cy="586.50" r="2.35" fill="#2e2e2e"/>
<circle cx="1573.85" cy="588.37" r="2.35" fill="#2e2e2e"/>
<circle cx="1573.85" cy="590.24" r="2.35" fill="#2e2e2e"/>
<circle cx="1573.85" cy="592.10" r="2.35" fill="#2e2e2e"/>
<circle cx="1573.85" cy="593.97" r="2.35" fill="#2e2e2e"/>
<circle cx="1573.85" cy="214.70" r="2.35" fill="#2e2e2e"/>
<circle cx="1573.85" cy="219.20" r="2.35" fill="#2e2e2e"/>
<line x1="1635.69" y1="246.73" x2="1635.69" y2="375.08" stroke="#333" stroke-width="1.55" stroke-linecap="butt" />
<line x1="1635.69" y1="462.82" x2="1635.69" y2="593.04" stroke="#333" stroke-width="1.55" stroke-linecap="butt" />
<line x1="1626.44" y1="246.73" x2="1644.94" y2="246.73" stroke="#333" stroke-width="1.55" stroke-linecap="butt" />
<line x1="1626.44" y1="593.04" x2="1644.94" y2="593.04" stroke="#333" stroke-width="1.55" stroke-linecap="butt" />
<rect x="1612.34" y="375.08" width="46.70" height="87.74" fill="#93AA00" stroke="#333" stroke-width="1.3"/>
<line x1="1612.34" y1="408.22" x2="1659.04" y2="408.22" stroke="#2b2b2b" stroke-width="2.3" stroke-linecap="butt" />
<circle cx="1635.69" cy="53.51" r="2.35" fill="#2e2e2e"/>
<circle cx="1635.69" cy="62.84" r="2.35" fill="#2e2e2e"/>
<circle cx="1635.69" cy="65.17" r="2.35" fill="#2e2e2e"/>
<circle cx="1635.69" cy="84.31" r="2.35" fill="#2e2e2e"/>
<circle cx="1635.69" cy="96.91" r="2.35" fill="#2e2e2e"/>
<circle cx="1635.69" cy="100.18" r="2.35" fill="#2e2e2e"/>
<circle cx="1635.69" cy="111.38" r="2.35" fill="#2e2e2e"/>
<circle cx="1635.69" cy="140.78" r="2.35" fill="#2e2e2e"/>
<circle cx="1635.69" cy="152.92" r="2.35" fill="#2e2e2e"/>
<circle cx="1635.69" cy="188.39" r="2.35" fill="#2e2e2e"/>
<circle cx="1635.69" cy="197.26" r="2.35" fill="#2e2e2e"/>
<circle cx="1635.69" cy="229.46" r="2.35" fill="#2e2e2e"/>
<circle cx="1635.69" cy="235.99" r="2.35" fill="#2e2e2e"/>
<line x1="1697.77" y1="261.66" x2="1697.77" y2="394.21" stroke="#333" stroke-width="1.55" stroke-linecap="butt" />
<line x1="1697.77" y1="482.42" x2="1697.77" y2="593.04" stroke="#333" stroke-width="1.55" stroke-linecap="butt" />
<line x1="1688.52" y1="261.66" x2="1707.02" y2="261.66" stroke="#333" stroke-width="1.55" stroke-linecap="butt" />
<line x1="1688.52" y1="593.04" x2="1707.02" y2="593.04" stroke="#333" stroke-width="1.55" stroke-linecap="butt" />
<rect x="1674.42" y="394.21" width="46.70" height="88.21" fill="#00BA38" stroke="#333" stroke-width="1.3"/>
<line x1="1674.42" y1="430.62" x2="1721.12" y2="430.62" stroke="#2b2b2b" stroke-width="2.3" stroke-linecap="butt" />
<circle cx="1697.77" cy="224.10" r="2.35" fill="#2e2e2e"/>
<circle cx="1697.77" cy="228.90" r="2.35" fill="#2e2e2e"/>
<circle cx="1697.77" cy="230.75" r="2.35" fill="#2e2e2e"/>
<circle cx="1697.77" cy="232.60" r="2.35" fill="#2e2e2e"/>
<circle cx="1697.77" cy="234.45" r="2.35" fill="#2e2e2e"/>
<circle cx="1697.77" cy="236.30" r="2.35" fill="#2e2e2e"/>
<circle cx="1697.77" cy="240.60" r="2.35" fill="#2e2e2e"/>
<circle cx="1697.77" cy="242.24" r="2.35" fill="#2e2e2e"/>
<circle cx="1697.77" cy="243.88" r="2.35" fill="#2e2e2e"/>
<circle cx="1697.77" cy="245.52" r="2.35" fill="#2e2e2e"/>
<circle cx="1697.77" cy="247.15" r="2.35" fill="#2e2e2e"/>
<circle cx="1697.77" cy="248.79" r="2.35" fill="#2e2e2e"/>
<circle cx="1697.77" cy="250.43" r="2.35" fill="#2e2e2e"/>
<circle cx="1697.77" cy="252.07" r="2.35" fill="#2e2e2e"/>
<circle cx="1697.77" cy="253.71" r="2.35" fill="#2e2e2e"/>
<circle cx="1697.77" cy="255.35" r="2.35" fill="#2e2e2e"/>
<circle cx="1697.77" cy="256.98" r="2.35" fill="#2e2e2e"/>
<circle cx="1697.77" cy="258.62" r="2.35" fill="#2e2e2e"/>
<circle cx="1697.77" cy="260.26" r="2.35" fill="#2e2e2e"/>
<circle cx="1697.77" cy="261.90" r="2.35" fill="#2e2e2e"/>
<line x1="1759.61" y1="255.60" x2="1759.61" y2="388.15" stroke="#333" stroke-width="1.55" stroke-linecap="butt" />
<line x1="1759.61" y1="476.82" x2="1759.61" y2="593.04" stroke="#333" stroke-width="1.55" stroke-linecap="butt" />
<line x1="1750.36" y1="255.60" x2="1768.86" y2="255.60" stroke="#333" stroke-width="1.55" stroke-linecap="butt" />
<line x1="1750.36" y1="593.04" x2="1768.86" y2="593.04" stroke="#333" stroke-width="1.55" stroke-linecap="butt" />
<rect x="1736.26" y="388.15" width="46.70" height="88.68" fill="#00C19F" stroke="#333" stroke-width="1.3"/>
<line x1="1736.26" y1="424.55" x2="1782.96" y2="424.55" stroke="#2b2b2b" stroke-width="2.3" stroke-linecap="butt" />
<circle cx="1759.61" cy="239.90" r="2.35" fill="#2e2e2e"/>
<circle cx="1759.61" cy="242.00" r="2.35" fill="#2e2e2e"/>
<circle cx="1759.61" cy="244.10" r="2.35" fill="#2e2e2e"/>
<circle cx="1759.61" cy="246.20" r="2.35" fill="#2e2e2e"/>
<circle cx="1759.61" cy="248.30" r="2.35" fill="#2e2e2e"/>
<circle cx="1759.61" cy="250.40" r="2.35" fill="#2e2e2e"/>
<circle cx="1759.61" cy="252.50" r="2.35" fill="#2e2e2e"/>
<circle cx="1759.61" cy="254.60" r="2.35" fill="#2e2e2e"/>
<line x1="1821.45" y1="250.46" x2="1821.45" y2="383.48" stroke="#333" stroke-width="1.55" stroke-linecap="butt" />
<line x1="1821.45" y1="471.69" x2="1821.45" y2="593.04" stroke="#333" stroke-width="1.55" stroke-linecap="butt" />
<line x1="1812.20" y1="250.46" x2="1830.70" y2="250.46" stroke="#333" stroke-width="1.55" stroke-linecap="butt" />
<line x1="1812.20" y1="593.04" x2="1830.70" y2="593.04" stroke="#333" stroke-width="1.55" stroke-linecap="butt" />
<rect x="1798.10" y="383.48" width="46.70" height="88.21" fill="#00B9E3" stroke="#333" stroke-width="1.3"/>
<line x1="1798.10" y1="418.48" x2="1844.80" y2="418.48" stroke="#2b2b2b" stroke-width="2.3" stroke-linecap="butt" />
<circle cx="1821.45" cy="127.72" r="2.35" fill="#2e2e2e"/>
<circle cx="1821.45" cy="130.98" r="2.35" fill="#2e2e2e"/>
<circle cx="1821.45" cy="143.12" r="2.35" fill="#2e2e2e"/>
<circle cx="1821.45" cy="147.32" r="2.35" fill="#2e2e2e"/>
<circle cx="1821.45" cy="163.65" r="2.35" fill="#2e2e2e"/>
<circle cx="1821.45" cy="176.25" r="2.35" fill="#2e2e2e"/>
<circle cx="1821.45" cy="200.99" r="2.35" fill="#2e2e2e"/>
<circle cx="1821.45" cy="206.12" r="2.35" fill="#2e2e2e"/>
<circle cx="1821.45" cy="249.53" r="2.35" fill="#2e2e2e"/>
<line x1="1883.29" y1="243.00" x2="1883.29" y2="372.74" stroke="#333" stroke-width="1.55" stroke-linecap="butt" />
<line x1="1883.29" y1="460.49" x2="1883.29" y2="591.64" stroke="#333" stroke-width="1.55" stroke-linecap="butt" />
<line x1="1874.04" y1="243.00" x2="1892.54" y2="243.00" stroke="#333" stroke-width="1.55" stroke-linecap="butt" />
<line x1="1874.04" y1="591.64" x2="1892.54" y2="591.64" stroke="#333" stroke-width="1.55" stroke-linecap="butt" />
<rect x="1859.94" y="372.74" width="46.70" height="87.74" fill="#619CFF" stroke="#333" stroke-width="1.3"/>
<line x1="1859.94" y1="407.28" x2="1906.64" y2="407.28" stroke="#2b2b2b" stroke-width="2.3" stroke-linecap="butt" />
<circle cx="1883.29" cy="238.33" r="2.35" fill="#2e2e2e"/>
<circle cx="1883.29" cy="240.66" r="2.35" fill="#2e2e2e"/>
<circle cx="1883.29" cy="593.04" r="2.35" fill="#2e2e2e"/>
<line x1="1945.13" y1="223.86" x2="1945.13" y2="361.08" stroke="#333" stroke-width="1.55" stroke-linecap="butt" />
<line x1="1945.13" y1="453.49" x2="1945.13" y2="593.04" stroke="#333" stroke-width="1.55" stroke-linecap="butt" />
<line x1="1935.88" y1="223.86" x2="1954.38" y2="223.86" stroke="#333" stroke-width="1.55" stroke-linecap="butt" />
<line x1="1935.88" y1="593.04" x2="1954.38" y2="593.04" stroke="#333" stroke-width="1.55" stroke-linecap="butt" />
<rect x="1921.78" y="361.08" width="46.70" height="92.41" fill="#DB72FB" stroke="#333" stroke-width="1.3"/>
<line x1="1921.78" y1="395.61" x2="1968.48" y2="395.61" stroke="#2b2b2b" stroke-width="2.3" stroke-linecap="butt" />
<circle cx="1945.13" cy="177.65" r="2.35" fill="#2e2e2e"/>
<circle cx="1945.13" cy="180.45" r="2.35" fill="#2e2e2e"/>
<circle cx="1945.13" cy="183.26" r="2.35" fill="#2e2e2e"/>
<circle cx="1945.13" cy="193.52" r="2.35" fill="#2e2e2e"/>
<circle cx="1945.13" cy="217.33" r="2.35" fill="#2e2e2e"/>
<circle cx="1945.13" cy="219.19" r="2.35" fill="#2e2e2e"/>
<circle cx="1945.13" cy="593.04" r="2.35" fill="#2e2e2e"/>
<line x1="2006.97" y1="230.39" x2="2006.97" y2="365.28" stroke="#333" stroke-width="1.55" stroke-linecap="butt" />
<line x1="2006.97" y1="456.75" x2="2006.97" y2="593.04" stroke="#333" stroke-width="1.55" stroke-linecap="butt" />
<line x1="1997.72" y1="230.39" x2="2016.22" y2="230.39" stroke="#333" stroke-width="1.55" stroke-linecap="butt" />
<line x1="1997.72" y1="593.04" x2="2016.22" y2="593.04" stroke="#333" stroke-width="1.55" stroke-linecap="butt" />
<rect x="1983.62" y="365.28" width="46.70" height="91.48" fill="#FF61C3" stroke="#333" stroke-width="1.3"/>
<line x1="1983.62" y1="400.28" x2="2030.32" y2="400.28" stroke="#2b2b2b" stroke-width="2.3" stroke-linecap="butt" />
<line x1="1474.95" y1="27.50" x2="1474.95" y2="620.00" stroke="#000" stroke-width="2.5" stroke-linecap="square" />
<line x1="1474.95" y1="620.00" x2="2042.50" y2="620.00" stroke="#000" stroke-width="2.5" stroke-linecap="square" />
<line x1="1471.65" y1="132.10" x2="1473.95" y2="132.10" stroke="#333" stroke-width="1.2" stroke-linecap="butt" />
<text transform="translate(1469.75 136.85) scale(0.9650 1)" font-family='"Liberation Sans", Arial, Helvetica, sans-serif' font-size="13.1" font-weight="bold" text-anchor="end" fill="#000" stroke="#000" stroke-width="0.2">0.006</text>
<line x1="1471.65" y1="285.60" x2="1473.95" y2="285.60" stroke="#333" stroke-width="1.2" stroke-linecap="butt" />
<text transform="translate(1469.75 290.35) scale(0.9650 1)" font-family='"Liberation Sans", Arial, Helvetica, sans-serif' font-size="13.1" font-weight="bold" text-anchor="end" fill="#000" stroke="#000" stroke-width="0.2">0.004</text>
<line x1="1471.65" y1="439.40" x2="1473.95" y2="439.40" stroke="#333" stroke-width="1.2" stroke-linecap="butt" />
<text transform="translate(1469.75 444.15) scale(0.9650 1)" font-family='"Liberation Sans", Arial, Helvetica, sans-serif' font-size="13.1" font-weight="bold" text-anchor="end" fill="#000" stroke="#000" stroke-width="0.2">0.002</text>
<line x1="1471.65" y1="593.10" x2="1473.95" y2="593.10" stroke="#333" stroke-width="1.2" stroke-linecap="butt" />
<text transform="translate(1469.75 597.85) scale(0.9650 1)" font-family='"Liberation Sans", Arial, Helvetica, sans-serif' font-size="13.1" font-weight="bold" text-anchor="end" fill="#000" stroke="#000" stroke-width="0.2">0.000</text>
<line x1="1512.01" y1="621.00" x2="1512.01" y2="622.80" stroke="#333" stroke-width="1.2" stroke-linecap="butt" />
<text transform="translate(1512.01 633.80) scale(0.9250 1)" font-family='"Liberation Sans", Arial, Helvetica, sans-serif' font-size="12.5" font-weight="bold" text-anchor="middle" fill="#000" stroke="#000" stroke-width="0.35" letter-spacing="0.2">Ex-TC</text>
<line x1="1573.85" y1="621.00" x2="1573.85" y2="622.80" stroke="#333" stroke-width="1.2" stroke-linecap="butt" />
<text transform="translate(1573.85 633.80) scale(0.9250 1)" font-family='"Liberation Sans", Arial, Helvetica, sans-serif' font-size="12.5" font-weight="bold" text-anchor="middle" fill="#000" stroke="#000" stroke-width="0.35" letter-spacing="0.2">Con-TC</text>
<line x1="1635.69" y1="621.00" x2="1635.69" y2="622.80" stroke="#333" stroke-width="1.2" stroke-linecap="butt" />
<text transform="translate(1635.69 633.80) scale(0.9250 1)" font-family='"Liberation Sans", Arial, Helvetica, sans-serif' font-size="12.5" font-weight="bold" text-anchor="middle" fill="#000" stroke="#000" stroke-width="0.35" letter-spacing="0.2">In-TC</text>
<line x1="1697.77" y1="621.00" x2="1697.77" y2="622.80" stroke="#333" stroke-width="1.2" stroke-linecap="butt" />
<text transform="translate(1697.77 633.80) scale(0.9250 1)" font-family='"Liberation Sans", Arial, Helvetica, sans-serif' font-size="12.5" font-weight="bold" text-anchor="middle" fill="#000" stroke="#000" stroke-width="0.35" letter-spacing="0.2">Ex-BC</text>
<line x1="1759.61" y1="621.00" x2="1759.61" y2="622.80" stroke="#333" stroke-width="1.2" stroke-linecap="butt" />
<text transform="translate(1759.61 633.80) scale(0.9250 1)" font-family='"Liberation Sans", Arial, Helvetica, sans-serif' font-size="12.5" font-weight="bold" text-anchor="middle" fill="#000" stroke="#000" stroke-width="0.35" letter-spacing="0.2">Con-BC</text>
<line x1="1821.45" y1="621.00" x2="1821.45" y2="622.80" stroke="#333" stroke-width="1.2" stroke-linecap="butt" />
<text transform="translate(1821.45 633.80) scale(0.9250 1)" font-family='"Liberation Sans", Arial, Helvetica, sans-serif' font-size="12.5" font-weight="bold" text-anchor="middle" fill="#000" stroke="#000" stroke-width="0.35" letter-spacing="0.2">In-BC</text>
<line x1="1883.29" y1="621.00" x2="1883.29" y2="622.80" stroke="#333" stroke-width="1.2" stroke-linecap="butt" />
<text transform="translate(1883.29 633.80) scale(0.9250 1)" font-family='"Liberation Sans", Arial, Helvetica, sans-serif' font-size="12.5" font-weight="bold" text-anchor="middle" fill="#000" stroke="#000" stroke-width="0.35" letter-spacing="0.2">Ex-WC</text>
<line x1="1945.13" y1="621.00" x2="1945.13" y2="622.80" stroke="#333" stroke-width="1.2" stroke-linecap="butt" />
<text transform="translate(1945.13 633.80) scale(0.9250 1)" font-family='"Liberation Sans", Arial, Helvetica, sans-serif' font-size="12.5" font-weight="bold" text-anchor="middle" fill="#000" stroke="#000" stroke-width="0.35" letter-spacing="0.2">Con-WC</text>
<line x1="2006.97" y1="621.00" x2="2006.97" y2="622.80" stroke="#333" stroke-width="1.2" stroke-linecap="butt" />
<text transform="translate(2006.97 633.80) scale(0.9250 1)" font-family='"Liberation Sans", Arial, Helvetica, sans-serif' font-size="12.5" font-weight="bold" text-anchor="middle" fill="#000" stroke="#000" stroke-width="0.35" letter-spacing="0.2">In-WC</text>
<text transform="translate(1432.00 322.50) rotate(-90) scale(0.9850 1)" font-family='"Liberation Sans", Arial, Helvetica, sans-serif' font-size="13" font-weight="bold" text-anchor="middle" fill="#000" >&#960;</text>
</g>
<g id="panel-d">
<text transform="translate(61.90 751.50)" font-family='"Liberation Sans", Arial, Helvetica, sans-serif' font-size="55.5" font-weight="normal" text-anchor="start" fill="#000" stroke="#000" stroke-width="0.8">d</text>
<g transform="scale(1.26 1)" stroke="#262626" stroke-width="2.2" stroke-dasharray="9.5 6.85" fill="none">
<line x1="216.11" y1="910.30" x2="316.43" y2="840.70"/>
<line x1="384.05" y1="861.50" x2="469.84" y2="1266.00"/>
<line x1="185.40" y1="992.90" x2="383.33" y2="1265.00"/>
<line x1="719.84" y1="902.00" x2="888.89" y2="783.00"/>
<line x1="951.79" y1="799.20" x2="1037.30" y2="1343.00"/>
<line x1="691.27" y1="992.00" x2="962.70" y2="1351.00"/>
<line x1="1280.95" y1="906.30" x2="1397.62" y2="844.00"/>
<line x1="1450.00" y1="867.00" x2="1475.40" y2="1120.00"/>
<line x1="1265.56" y1="987.20" x2="1385.71" y2="1124.00"/>
</g>
<ellipse cx="460.6" cy="801.6" rx="75.1" ry="59.6" fill="#FF7C80"/>
<text transform="translate(460.30 795.35) scale(1.2350 1)" font-family='"Liberation Serif", "Times New Roman", serif' font-size="28.6" font-weight="bold" text-anchor="middle" fill="#000" >2.27</text>
<text transform="translate(422.40 830.50) scale(1.2350 1)" font-family='"Liberation Serif", "Times New Roman", serif' font-size="30.8" font-weight="bold" text-anchor="start" fill="#000" stroke="#000" stroke-width="0.5">&#215;</text>
<text transform="translate(445.10 828.40) scale(1.2400 1)" font-family='"Liberation Serif", "Times New Roman", serif' font-size="28.6" font-weight="bold" text-anchor="start" fill="#000" >10</text>
<text transform="translate(480.60 820.50) scale(1.2350 1)" font-family='"Liberation Serif", "Times New Roman", serif' font-size="18.6" font-weight="bold" text-anchor="start" fill="#000" >-3</text>
<ellipse cx="197.3" cy="937.45" rx="75.1" ry="59.6" fill="#CC9900"/>
<text transform="translate(197.00 931.20) scale(1.2350 1)" font-family='"Liberation Serif", "Times New Roman", serif' font-size="28.6" font-weight="bold" text-anchor="middle" fill="#000" >2.38</text>
<text transform="translate(159.10 966.35) scale(1.2350 1)" font-family='"Liberation Serif", "Times New Roman", serif' font-size="30.8" font-weight="bold" text-anchor="start" fill="#000" stroke="#000" stroke-width="0.5">&#215;</text>
<text transform="translate(181.80 964.25) scale(1.2400 1)" font-family='"Liberation Serif", "Times New Roman", serif' font-size="28.6" font-weight="bold" text-anchor="start" fill="#000" >10</text>
<text transform="translate(217.30 956.35) scale(1.2350 1)" font-family='"Liberation Serif", "Times New Roman", serif' font-size="18.6" font-weight="bold" text-anchor="start" fill="#000" >-3</text>
<ellipse cx="541.5" cy="1314.6" rx="75.1" ry="59.6" fill="#808000"/>
<text transform="translate(541.20 1308.35) scale(1.2350 1)" font-family='"Liberation Serif", "Times New Roman", serif' font-size="28.6" font-weight="bold" text-anchor="middle" fill="#000" >2.60</text>
<text transform="translate(503.30 1343.50) scale(1.2350 1)" font-family='"Liberation Serif", "Times New Roman", serif' font-size="30.8" font-weight="bold" text-anchor="start" fill="#000" stroke="#000" stroke-width="0.5">&#215;</text>
<text transform="translate(526.00 1341.40) scale(1.2400 1)" font-family='"Liberation Serif", "Times New Roman", serif' font-size="28.6" font-weight="bold" text-anchor="start" fill="#000" >10</text>
<text transform="translate(561.50 1333.50) scale(1.2350 1)" font-family='"Liberation Serif", "Times New Roman", serif' font-size="18.6" font-weight="bold" text-anchor="start" fill="#000" >-3</text>
<ellipse cx="1184" cy="741.9" rx="75.1" ry="59.6" fill="#339933"/>
<text transform="translate(1183.70 735.65) scale(1.2350 1)" font-family='"Liberation Serif", "Times New Roman", serif' font-size="28.6" font-weight="bold" text-anchor="middle" fill="#000" >2.12</text>
<text transform="translate(1145.80 770.80) scale(1.2350 1)" font-family='"Liberation Serif", "Times New Roman", serif' font-size="30.8" font-weight="bold" text-anchor="start" fill="#000" stroke="#000" stroke-width="0.5">&#215;</text>
<text transform="translate(1168.50 768.70) scale(1.2400 1)" font-family='"Liberation Serif", "Times New Roman", serif' font-size="28.6" font-weight="bold" text-anchor="start" fill="#000" >10</text>
<text transform="translate(1204.00 760.80) scale(1.2350 1)" font-family='"Liberation Serif", "Times New Roman", serif' font-size="18.6" font-weight="bold" text-anchor="start" fill="#000" >-3</text>
<ellipse cx="835.3" cy="935.5" rx="75.1" ry="59.6" fill="#00CC99"/>
<text transform="translate(835.00 929.25) scale(1.2350 1)" font-family='"Liberation Serif", "Times New Roman", serif' font-size="28.6" font-weight="bold" text-anchor="middle" fill="#000" >2.26</text>
<text transform="translate(797.10 964.40) scale(1.2350 1)" font-family='"Liberation Serif", "Times New Roman", serif' font-size="30.8" font-weight="bold" text-anchor="start" fill="#000" stroke="#000" stroke-width="0.5">&#215;</text>
<text transform="translate(819.80 962.30) scale(1.2400 1)" font-family='"Liberation Serif", "Times New Roman", serif' font-size="28.6" font-weight="bold" text-anchor="start" fill="#000" >10</text>
<text transform="translate(855.30 954.40) scale(1.2350 1)" font-family='"Liberation Serif", "Times New Roman", serif' font-size="18.6" font-weight="bold" text-anchor="start" fill="#000" >-3</text>
<ellipse cx="1266.5" cy="1396.6" rx="75.1" ry="59.6" fill="#00CCFF"/>
<text transform="translate(1266.20 1390.35) scale(1.2350 1)" font-family='"Liberation Serif", "Times New Roman", serif' font-size="28.6" font-weight="bold" text-anchor="middle" fill="#000" >2.19</text>
<text transform="translate(1228.30 1425.50) scale(1.2350 1)" font-family='"Liberation Serif", "Times New Roman", serif' font-size="30.8" font-weight="bold" text-anchor="start" fill="#000" stroke="#000" stroke-width="0.5">&#215;</text>
<text transform="translate(1251.00 1423.40) scale(1.2400 1)" font-family='"Liberation Serif", "Times New Roman", serif' font-size="28.6" font-weight="bold" text-anchor="start" fill="#000" >10</text>
<text transform="translate(1286.50 1415.50) scale(1.2350 1)" font-family='"Liberation Serif", "Times New Roman", serif' font-size="18.6" font-weight="bold" text-anchor="start" fill="#000" >-3</text>
<ellipse cx="1825.5" cy="805.2" rx="75.1" ry="59.6" fill="#3399FF"/>
<text transform="translate(1825.20 798.95) scale(1.2350 1)" font-family='"Liberation Serif", "Times New Roman", serif' font-size="28.6" font-weight="bold" text-anchor="middle" fill="#000" >2.39</text>
<text transform="translate(1787.30 834.10) scale(1.2350 1)" font-family='"Liberation Serif", "Times New Roman", serif' font-size="30.8" font-weight="bold" text-anchor="start" fill="#000" stroke="#000" stroke-width="0.5">&#215;</text>
<text transform="translate(1810.00 832.00) scale(1.2400 1)" font-family='"Liberation Serif", "Times New Roman", serif' font-size="28.6" font-weight="bold" text-anchor="start" fill="#000" >10</text>
<text transform="translate(1845.50 824.10) scale(1.2350 1)" font-family='"Liberation Serif", "Times New Roman", serif' font-size="18.6" font-weight="bold" text-anchor="start" fill="#000" >-3</text>
<ellipse cx="1544.7" cy="938.0" rx="75.1" ry="59.6" fill="#FF66FF"/>
<text transform="translate(1544.40 931.15) scale(1.2350 1)" font-family='"Liberation Serif", "Times New Roman", serif' font-size="28.6" font-weight="bold" text-anchor="middle" fill="#000" >2.48</text>
<text transform="translate(1506.50 966.30) scale(1.2350 1)" font-family='"Liberation Serif", "Times New Roman", serif' font-size="30.8" font-weight="bold" text-anchor="start" fill="#000" stroke="#000" stroke-width="0.5">&#215;</text>
<text transform="translate(1529.20 964.20) scale(1.2400 1)" font-family='"Liberation Serif", "Times New Roman", serif' font-size="28.6" font-weight="bold" text-anchor="start" fill="#000" >10</text>
<text transform="translate(1564.70 956.30) scale(1.2350 1)" font-family='"Liberation Serif", "Times New Roman", serif' font-size="18.6" font-weight="bold" text-anchor="start" fill="#000" >-3</text>
<ellipse cx="1805" cy="1165.5" rx="75.1" ry="59.6" fill="#FF6699"/>
<text transform="translate(1804.70 1159.95) scale(1.2350 1)" font-family='"Liberation Serif", "Times New Roman", serif' font-size="28.6" font-weight="bold" text-anchor="middle" fill="#000" >2.53</text>
<text transform="translate(1766.80 1195.10) scale(1.2350 1)" font-family='"Liberation Serif", "Times New Roman", serif' font-size="30.8" font-weight="bold" text-anchor="start" fill="#000" stroke="#000" stroke-width="0.5">&#215;</text>
<text transform="translate(1789.50 1193.00) scale(1.2400 1)" font-family='"Liberation Serif", "Times New Roman", serif' font-size="28.6" font-weight="bold" text-anchor="start" fill="#000" >10</text>
<text transform="translate(1825.00 1185.10) scale(1.2350 1)" font-family='"Liberation Serif", "Times New Roman", serif' font-size="18.6" font-weight="bold" text-anchor="start" fill="#000" >-3</text>
<text transform="translate(387.50 881.20) scale(1.2150 1)" font-family='"Liberation Serif", "Times New Roman", serif' font-size="24.2" font-weight="bold" text-anchor="start" fill="#000" >Ex-TC</text>
<text transform="translate(269.20 959.20) scale(1.2150 1)" font-family='"Liberation Serif", "Times New Roman", serif' font-size="24.2" font-weight="bold" text-anchor="start" fill="#000" >Con-TC</text>
<text transform="translate(488.00 1249.10) scale(1.2150 1)" font-family='"Liberation Serif", "Times New Roman", serif' font-size="24.2" font-weight="bold" text-anchor="start" fill="#000" >In-TC</text>
<text transform="translate(1105.30 825.50) scale(1.2150 1)" font-family='"Liberation Serif", "Times New Roman", serif' font-size="24.2" font-weight="bold" text-anchor="start" fill="#000" >Ex-BC</text>
<text transform="translate(910.50 955.50) scale(1.2150 1)" font-family='"Liberation Serif", "Times New Roman", serif' font-size="24.2" font-weight="bold" text-anchor="start" fill="#000" >Con-BC</text>
<text transform="translate(1211.00 1328.85) scale(1.2150 1)" font-family='"Liberation Serif", "Times New Roman", serif' font-size="24.2" font-weight="bold" text-anchor="start" fill="#000" >In-BC</text>
<text transform="translate(1725.80 886.50) scale(1.2150 1)" font-family='"Liberation Serif", "Times New Roman", serif' font-size="24.2" font-weight="bold" text-anchor="start" fill="#000" >Ex-WC</text>
<text transform="translate(1616.20 956.70) scale(1.2150 1)" font-family='"Liberation Serif", "Times New Roman", serif' font-size="24.2" font-weight="bold" text-anchor="start" fill="#000" >Con-WC</text>
<text transform="translate(1749.00 1099.60) scale(1.2150 1)" font-family='"Liberation Serif", "Times New Roman", serif' font-size="24.2" font-weight="bold" text-anchor="start" fill="#000" >In-WC</text>
<text transform="translate(250.00 865.00) scale(1.1930 1)" font-family='"Liberation Serif", "Times New Roman", serif' font-size="29.8" font-weight="bold" text-anchor="start" fill="#000" >0.037</text>
<text transform="translate(550.00 1060.50) scale(1.1930 1)" font-family='"Liberation Serif", "Times New Roman", serif' font-size="29.8" font-weight="bold" text-anchor="start" fill="#000" >0.125</text>
<text transform="translate(255.00 1140.70) scale(1.1930 1)" font-family='"Liberation Serif", "Times New Roman", serif' font-size="29.8" font-weight="bold" text-anchor="start" fill="#000" >0.102</text>
<text transform="translate(919.50 840.00) scale(1.1930 1)" font-family='"Liberation Serif", "Times New Roman", serif' font-size="29.8" font-weight="bold" text-anchor="start" fill="#000" >0.064</text>
<text transform="translate(1263.00 1071.80) scale(1.1930 1)" font-family='"Liberation Serif", "Times New Roman", serif' font-size="29.8" font-weight="bold" text-anchor="start" fill="#000" >0.168</text>
<text transform="translate(928.00 1176.80) scale(1.1930 1)" font-family='"Liberation Serif", "Times New Roman", serif' font-size="29.8" font-weight="bold" text-anchor="start" fill="#000" >0.136</text>
<text transform="translate(1600.30 863.05) scale(1.1930 1)" font-family='"Liberation Serif", "Times New Roman", serif' font-size="29.8" font-weight="bold" text-anchor="start" fill="#000" >0.040</text>
<text transform="translate(1856.30 989.00) scale(1.1930 1)" font-family='"Liberation Serif", "Times New Roman", serif' font-size="29.8" font-weight="bold" text-anchor="start" fill="#000" >0.078</text>
<text transform="translate(1565.30 1073.00) scale(1.1930 1)" font-family='"Liberation Serif", "Times New Roman", serif' font-size="29.8" font-weight="bold" text-anchor="start" fill="#000" >0.055</text>
</g>
</svg>
</body></html>
